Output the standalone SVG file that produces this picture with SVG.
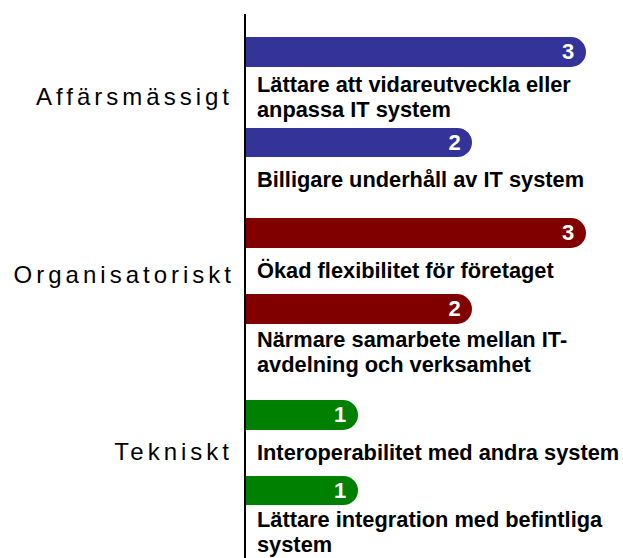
<svg xmlns="http://www.w3.org/2000/svg" width="623" height="558" viewBox="0 0 623 558">
  <style>
    .cat { font-family: "Liberation Sans", Arial, sans-serif; font-size: 24px; letter-spacing: 4px; fill: #000; text-anchor: end; }
    .lbl { font-family: "Liberation Sans", Arial, sans-serif; font-size: 21.8px; font-weight: bold; fill: #000; }
    .val { font-family: "Liberation Sans", Arial, sans-serif; font-size: 22px; font-weight: bold; fill: #fff; text-anchor: middle; }
    .blue { fill: #333399; }
    .red { fill: #800000; }
    .green { fill: #008000; }
  </style>
  <rect width="623" height="558" fill="#fff"/>

  <!-- category labels -->
  <g id="categories">
    <text class="cat" x="233" y="105">Affärsmässigt</text>
    <text class="cat" x="235" y="283">Organisatoriskt</text>
    <text class="cat" x="233" y="460">Tekniskt</text>
  </g>

  <!-- axis -->
  <g id="connectors">
    <line x1="245" y1="14" x2="245" y2="558" stroke="#000" stroke-width="2"/>
  </g>

  <!-- bars: value 1 = 113px, rounded right end -->
  <g id="bar-vidareutveckla">
    <path class="blue" d="M246 37 H571 A15 15 0 0 1 571 67 H246 Z"/>
    <text class="val" x="568" y="59">3</text>
    <text class="lbl" x="257" y="92">Lättare att vidareutveckla eller</text>
    <text class="lbl" x="257" y="117">anpassa IT system</text>
  </g>
  <g id="bar-underhall">
    <path class="blue" d="M246 128 H457.5 A14.5 14.5 0 0 1 457.5 157 H246 Z"/>
    <text class="val" x="454.5" y="150">2</text>
    <text class="lbl" x="257" y="187">Billigare underhåll av IT system</text>
  </g>
  <g id="bar-flexibilitet">
    <path class="red" d="M246 218 H571 A15 15 0 0 1 571 248 H246 Z"/>
    <text class="val" x="568" y="240">3</text>
    <text class="lbl" x="257" y="278">Ökad flexibilitet för företaget</text>
  </g>
  <g id="bar-samarbete">
    <path class="red" d="M246 294 H457 A15 15 0 0 1 457 324 H246 Z"/>
    <text class="val" x="454.5" y="316">2</text>
    <text class="lbl" x="257" y="347">Närmare samarbete mellan IT-</text>
    <text class="lbl" x="257" y="372">avdelning och verksamhet</text>
  </g>
  <g id="bar-interoperabilitet">
    <path class="green" d="M246 400 H343 A15 15 0 0 1 343 430 H246 Z"/>
    <text class="val" x="340" y="422">1</text>
    <text class="lbl" x="257" y="460">Interoperabilitet med andra system</text>
  </g>
  <g id="bar-integration">
    <path class="green" d="M246 476 H343.5 A14.5 14.5 0 0 1 343.5 505 H246 Z"/>
    <text class="val" x="340" y="498">1</text>
    <text class="lbl" x="257" y="527">Lättare integration med befintliga</text>
    <text class="lbl" x="257" y="552">system</text>
  </g>
</svg>
